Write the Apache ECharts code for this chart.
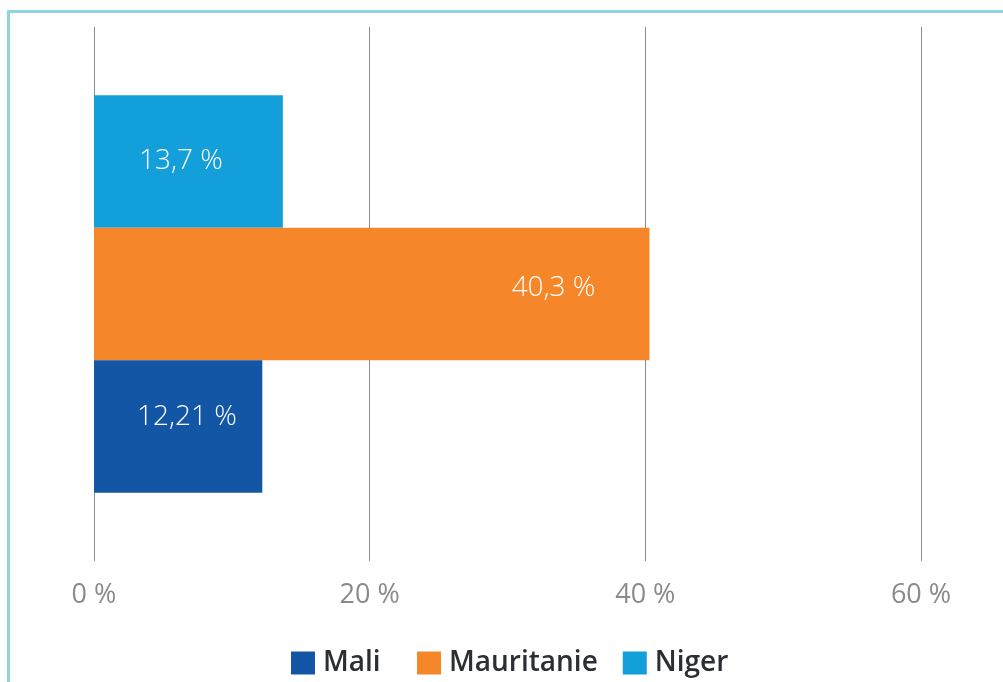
<!DOCTYPE html>
<html><head><meta charset="utf-8">
<script src="https://cdn.jsdelivr.net/npm/echarts@6/dist/echarts.min.js"></script>
<style>
html,body{margin:0;padding:0;background:#fff;}
#wrap{position:relative;width:1003px;height:682px;overflow:hidden;}
#chart{position:absolute;left:0;top:0;width:1003px;height:682px;}
#frame{position:absolute;left:7px;top:10px;width:1200px;height:900px;border-top:3px solid #8fd5df;border-left:3px solid #8fd5df;pointer-events:none;}
</style></head>
<body><div id="wrap"><div id="chart"></div><div id="frame"></div></div>
<script>
// Data
const countries = ['Mali', 'Mauritanie', 'Niger'];
const shares = [12.21, 40.3, 13.7];
const axisTicks = [0, 20, 40, 60];
const colors = {Mali: '#1356a6', Mauritanie: '#f5862a', Niger: '#139fd9'};

const fmt = v => String(v).replace('.', ',') + ' %';
const labelPlacement = {
  Mali: {position: 'insideLeft', distance: 43, offset: [0, -9]},
  Mauritanie: {position: 'insideRight', distance: 54, offset: [0, -6]},
  Niger: {position: 'insideLeft', distance: 45, offset: [0, 0]}
};

// Top bar first in pixel order: Niger, Mauritanie, Mali
const drawOrder = ['Niger', 'Mauritanie', 'Mali'];
const series = drawOrder.map(name => {
  const i = countries.indexOf(name);
  return {
    name: name,
    type: 'bar',
    barWidth: 132.5,
    barGap: '0%',
    data: [shares[i]],
    itemStyle: {color: colors[name]},
    label: Object.assign({
      show: true,
      color: '#ffffff',
      fontFamily: 'Open Sans',
      fontWeight: 300,
      fontSize: 28,
      formatter: p => fmt(p.value)
    }, labelPlacement[name])
  };
});

const legendBase = {
  bottom: 5,
  padding: 0,
  itemWidth: 24,
  itemHeight: 23,
  itemGap: 25,
  icon: 'rect',
  textStyle: {
    fontFamily: 'Open Sans',
    fontWeight: 600,
    fontSize: 28,
    color: '#2b2f33',
    padding: [0, 0, 0, 3]
  }
};

const chart = echarts.init(document.getElementById('chart'));
chart.setOption({
  animation: false,
  grid: {left: 94, right: 82, top: 27, bottom: 121, containLabel: false},
  xAxis: {
    type: 'value',
    min: axisTicks[0],
    max: axisTicks[axisTicks.length - 1],
    interval: axisTicks[1] - axisTicks[0],
    axisLine: {show: false},
    axisTick: {show: false},
    splitLine: {show: true, lineStyle: {color: '#8c8c8c', width: 1}},
    axisLabel: {
      margin: 21,
      color: '#8a8a8a',
      fontFamily: 'Open Sans',
      fontSize: 27,
      formatter: v => v + ' %'
    }
  },
  yAxis: {
    type: 'category',
    data: ['Share'],
    axisLine: {show: false},
    axisTick: {show: false},
    axisLabel: {show: false},
    splitLine: {show: false}
  },
  legend: [
    Object.assign({}, legendBase, {data: countries.slice(0, 1), left: 291}),
    Object.assign({}, legendBase, {data: countries.slice(1), left: 417})
  ],
  series: series
});
</script></body></html>
